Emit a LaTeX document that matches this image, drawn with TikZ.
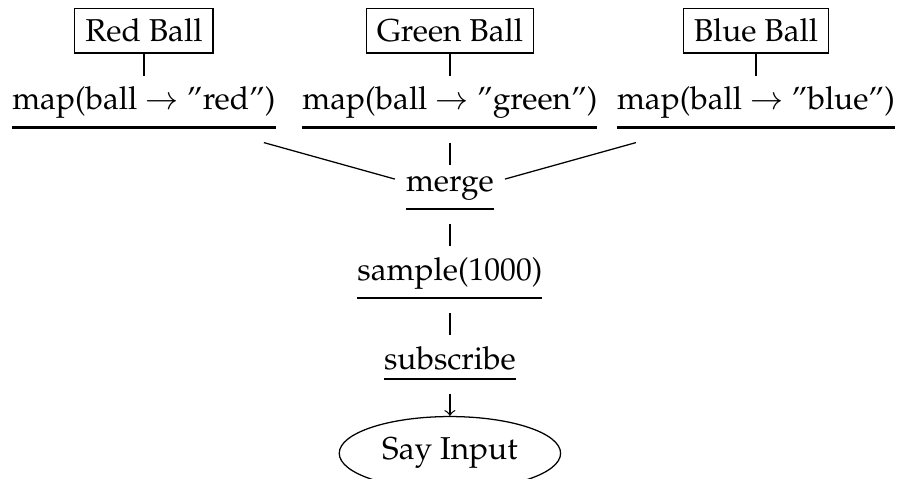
\documentclass[tikz,border=0pt]{standalone}
\usepackage[T1]{fontenc}
\usepackage{mathpazo}
\usetikzlibrary{positioning}
\usetikzlibrary{shapes.geometric}
\usetikzlibrary{arrows}
\newlength\oprule
\setlength\oprule{0.8pt}
% operator text with the thick rule under it
\newcommand{\opline}[1]{\setbox0\hbox{#1}\vtop{\copy0\kern3\oprule\hrule height\oprule width\wd0\kern\oprule}}
\tikzset{
    node distance=7pt,
    ball/.style={
        draw,
        rectangle
    },
    sink/.style={
        draw,
        ellipse
    },
    every edge/.append style={
        draw,
        -
    }
}

\begin{document}
\begin{tikzpicture}
    \node (merge) {\opline{merge}};
    \node[above=of merge] (mapgreen) {\opline{map(ball $\rightarrow$ ''green'')}};
    \node[anchor=base] (mapred) at ([xshift=-96.7pt]mapgreen.base) {\opline{map(ball $\rightarrow$ ''red'')}};
    \node[anchor=base] (mapblue) at ([xshift=96.7pt]mapgreen.base) {\opline{map(ball $\rightarrow$ ''blue'')}};
    \node[ball, above=of mapred] (redball) {Red Ball};
    \node[ball, above=of mapgreen] (greenball) {Green Ball};
    \node[ball, above=of mapblue] (blueball) {Blue Ball};
    \node[below=of merge] (sample) {\opline{sample(1000)}};
    \node[below=of sample] (subscribe) {\opline{subscribe}};
    \node[sink, below=of subscribe] (say) {Say Input};

    \draw (redball) edge (mapred);
    \draw (greenball) edge (mapgreen);
    \draw (blueball) edge (mapblue);
    \draw (mapred) edge (merge);
    \draw (mapgreen) edge (merge);
    \draw (mapblue) edge (merge);
    \draw (merge) edge (sample);
    \draw (sample) edge (subscribe);
    \draw[->] (subscribe) -- (say);

    \pgfresetboundingbox
    \coordinate (bbnw) at ([xshift=-0.35pt, yshift=2.43pt]mapred.west |- redball.north);
    \useasboundingbox (bbnw) rectangle ([xshift=284.4pt, yshift=-151.3pt]bbnw);
\end{tikzpicture}
\end{document}
